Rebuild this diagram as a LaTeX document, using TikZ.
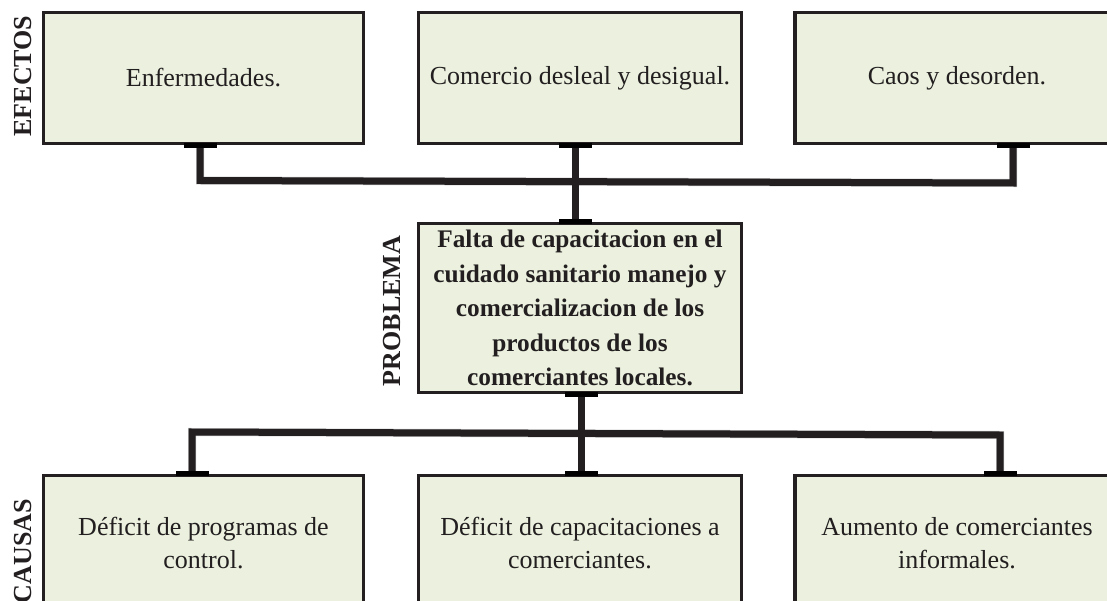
\documentclass[tikz,border=0pt]{standalone}
\usepackage{fontspec}
\setmainfont{Liberation Serif}
\definecolor{boxfill}{HTML}{EBF1DE}
\definecolor{ink}{HTML}{231F20}
\begin{document}
\begin{tikzpicture}[x=1pt,y=-1pt,
  box/.style={draw=ink, line width=3.2pt, fill=boxfill, inner sep=4pt, align=center,
    font=\fontsize{26}{33}\selectfont, text=ink},
  probbox/.style={box, font=\bfseries\fontsize{25.3}{34.5}\selectfont},
  conn/.style={draw=ink, line width=7pt, line join=miter},
  shadowline/.style={draw=black!22, line width=8pt, line join=miter, shift={(1.5,4)}},
  tab/.style={fill=black, minimum width=33pt, minimum height=5pt, inner sep=0pt},
  sidelabel/.style={rotate=90, font=\bfseries\fontsize{26}{30}\selectfont, text=ink}
]
\clip (0,0) rectangle (1107,601);
\fill[white] (0,0) rectangle (1107,601);

% junction coordinates
\coordinate (t1) at (200,180.5);
\coordinate (tm) at (575,182);
\coordinate (t3) at (1013,183);
\coordinate (b1) at (192,432);
\coordinate (bm) at (581,433.5);
\coordinate (b3) at (1000,435);

% boxes
\node[box, minimum width=320pt, minimum height=131pt] (e1) at (203.5,78) {Enfermedades.};
\node[box, minimum width=323pt, minimum height=131pt] (e2) at (580,78) {Comercio desleal y desigual.};
\node[box, minimum width=324pt, minimum height=131pt] (e3) at (957,78) {Caos y desorden.};
\node[probbox, minimum width=323pt, minimum height=169pt] (prob) at (580,308)
  {Falta de capacitacion en el\\cuidado sanitario manejo y\\comercializacion de los\\productos de los\\comerciantes locales.};
\node[box, minimum width=320pt, minimum height=136pt] (c1) at (203.5,543.5) {Déficit de programas de\\control.};
\node[box, minimum width=323pt, minimum height=136pt] (c2) at (580,543.5) {Déficit de capacitaciones a\\comerciantes.};
\node[box, minimum width=324pt, minimum height=136pt] (c3) at (957,543.5) {Aumento de comerciantes\\informales.};

% side labels
\node[sidelabel] (lefectos) at (23,76) {EFECTOS};
\node[sidelabel] (lproblema) at (392,311) {PROBLEMA};
\node[sidelabel] (lcausas) at (23,551) {CAUSAS};

% shadows
\draw[shadowline] (t1 |- e1.south) -- (t1) -- (t3) -- (t3 |- e3.south);
\draw[shadowline] (b1 |- c1.north) -- (b1) -- (b3) -- (b3 |- c3.north);

% connectors
\draw[conn] (t1 |- e1.south) -- (t1) -- (t3) -- (t3 |- e3.south);
\draw[conn] (tm |- e2.south) -- (tm |- prob.north);
\draw[conn] (b1 |- c1.north) -- (b1) -- (b3) -- (b3 |- c3.north);
\draw[conn] (bm |- prob.south) -- (bm |- c2.north);

% tabs where connectors meet boxes
\node[tab] (tab1) at (t1 |- e1.south) {};
\node[tab] (tab2) at (tm |- e2.south) {};
\node[tab] (tab3) at (t3 |- e3.south) {};
\node[tab] (tab4) at (tm |- prob.north) {};
\node[tab] (tab5) at (bm |- prob.south) {};
\node[tab] (tab6) at (b1 |- c1.north) {};
\node[tab] (tab7) at (bm |- c2.north) {};
\node[tab] (tab8) at (b3 |- c3.north) {};
\end{tikzpicture}
\end{document}
